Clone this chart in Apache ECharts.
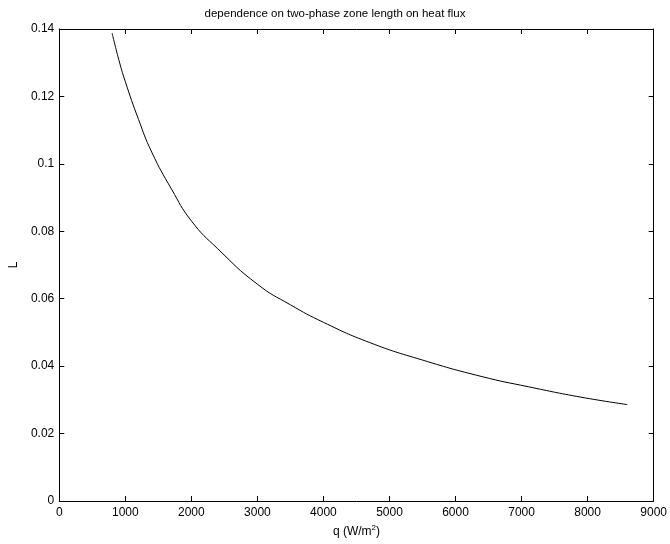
<!DOCTYPE html>
<html>
<head>
<meta charset="utf-8">
<script src="https://cdn.jsdelivr.net/npm/echarts@6/dist/echarts.min.js"></script>
<style>html,body{margin:0;padding:0;background:#fff}#c{width:670px;height:544px}</style>
</head>
<body>
<div id="c"></div>
<script>
const qValues = [800, 900, 1000, 1200, 1400, 1700, 2000, 2400, 3000, 3500, 4000, 4700, 5500, 6400, 7100, 7900, 8600];
const LValues = [0.1388, 0.1310, 0.1244, 0.1132, 0.1035, 0.0925, 0.0831, 0.0748, 0.0643, 0.0582, 0.0530, 0.0470, 0.0418, 0.0369, 0.0339, 0.0308, 0.0286];
const xTicks = [0, 1000, 2000, 3000, 4000, 5000, 6000, 7000, 8000, 9000];
const yTicks = [0, 0.02, 0.04, 0.06, 0.08, 0.1, 0.12, 0.14];
const titleText = 'dependence on two-phase zone length on heat flux';
const yName = 'L';

const font = 'Liberation Sans, Arial, Helvetica, sans-serif';
const chart = echarts.init(document.getElementById('c'));
const axisCommon = {
  axisLine: {show: true, onZero: false, lineStyle: {color: '#000', width: 1}},
  axisTick: {show: true, inside: true, length: 5, lineStyle: {color: '#000'}},
  splitLine: {show: false}
};
const xMin = xTicks[0], xMax = xTicks[xTicks.length - 1], xInt = xTicks[1] - xTicks[0];
const yMin = yTicks[0], yMax = yTicks[yTicks.length - 1], yInt = yTicks[1] - yTicks[0];
chart.setOption({
  animation: false,
  backgroundColor: '#fff',
  title: {text: titleText, left: 'center', top: 3, textStyle: {fontFamily: font, fontSize: 11.5, fontWeight: 'normal', color: '#000'}},
  grid: {left: 56, right: 15, top: 29, bottom: 43, containLabel: false},
  xAxis: [
    Object.assign({type: 'value', min: xMin, max: xMax, interval: xInt, position: 'bottom',
      name: '{n|q (W/m}{s|2}{n|)}', nameLocation: 'middle', nameGap: 16,
      nameTextStyle: {fontFamily: font, fontSize: 12, color: '#000',
        rich: {n: {fontFamily: font, fontSize: 12, color: '#000'},
               s: {fontFamily: font, fontSize: 8, color: '#000', padding: [0, 0, 8, 0]}}},
      axisLabel: {fontFamily: font, fontSize: 12, color: '#000', margin: 6, formatter: v => String(v)}}, axisCommon),
    Object.assign({type: 'value', min: xMin, max: xMax, interval: xInt, position: 'top', axisLabel: {show: false}}, axisCommon)
  ],
  yAxis: [
    Object.assign({type: 'value', min: yMin, max: yMax, interval: yInt, position: 'left',
      name: yName, nameLocation: 'middle', nameGap: 30,
      nameTextStyle: {fontFamily: font, fontSize: 12, color: '#000'},
      axisLabel: {fontFamily: font, fontSize: 12, color: '#000', margin: 5, formatter: v => String(+v.toFixed(2))}}, axisCommon),
    Object.assign({type: 'value', min: yMin, max: yMax, interval: yInt, position: 'right', axisLabel: {show: false}}, axisCommon)
  ],
  series: [{
    type: 'line',
    data: qValues.map((q, i) => [q, LValues[i]]),
    smooth: 0.5,
    showSymbol: false,
    lineStyle: {color: '#000', width: 1}
  }]
});
</script>
</body>
</html>
